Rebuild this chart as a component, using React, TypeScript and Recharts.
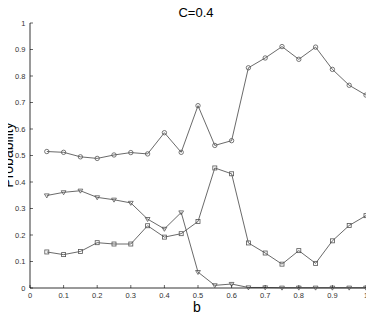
import React from 'react';
import { LineChart, Line, XAxis, YAxis } from 'recharts';

const bValues = [0.05, 0.1, 0.15, 0.2, 0.25, 0.3, 0.35, 0.4, 0.45, 0.5, 0.55, 0.6, 0.65, 0.7, 0.75, 0.8, 0.85, 0.9, 0.95, 1];
const circleSeries = [0.515, 0.512, 0.495, 0.489, 0.502, 0.511, 0.506, 0.586, 0.512, 0.688, 0.538, 0.556, 0.831, 0.868, 0.911, 0.863, 0.909, 0.825, 0.765, 0.728];
const triangleSeries = [0.349, 0.361, 0.367, 0.342, 0.333, 0.321, 0.26, 0.223, 0.285, 0.06, 0.01, 0.015, 0.002, 0.002, 0.001, 0.001, 0.001, 0.001, 0.001, 0.001];
const squareSeries = [0.136, 0.126, 0.138, 0.171, 0.166, 0.166, 0.235, 0.192, 0.205, 0.251, 0.453, 0.431, 0.17, 0.132, 0.09, 0.141, 0.093, 0.178, 0.236, 0.273];
const xTicks = [0, 0.1, 0.2, 0.3, 0.4, 0.5, 0.6, 0.7, 0.8, 0.9, 1];
const yTicks = [0, 0.1, 0.2, 0.3, 0.4, 0.5, 0.6, 0.7, 0.8, 0.9, 1];
const titleText = 'C=0.4';
const xLabel = 'b';
const yLabel = 'Probability';

const data = bValues.map((b, i) => ({
  b,
  circle: circleSeries[i],
  tri: triangleSeries[i],
  sq: squareSeries[i],
}));

const FONT = '"Liberation Sans", Arial, Helvetica, sans-serif';
const MARK = '#555';
const LINE = '#444';
const TICK_FILL = '#333';

const CircleDot = (props: any) => {
  const { cx, cy } = props;
  if (cx == null || cy == null) return <g />;
  return <circle cx={cx} cy={cy} r={2.2} fill="none" stroke={MARK} strokeWidth={0.8} />;
};
const SquareDot = (props: any) => {
  const { cx, cy } = props;
  if (cx == null || cy == null) return <g />;
  return <rect x={cx - 2} y={cy - 2} width={4} height={4} fill="none" stroke={MARK} strokeWidth={0.8} />;
};
const TriDot = (props: any) => {
  const { cx, cy } = props;
  if (cx == null || cy == null) return <g />;
  const pts = `${cx - 2.4},${cy - 1.6} ${cx + 2.4},${cy - 1.6} ${cx},${cy + 2.4}`;
  return <polygon points={pts} fill="none" stroke={MARK} strokeWidth={0.8} />;
};

const BottomTick = (props: any) => {
  const { x, y, payload } = props;
  return (
    <g>
      <line x1={x} y1={y} x2={x} y2={y - 3} stroke="#000" strokeWidth={0.6} />
      <text x={x} y={y + 9.7} textAnchor="middle" fontSize={7.5} fill={TICK_FILL} fontFamily={FONT}>
        {String(payload.value)}
      </text>
    </g>
  );
};
const TopTick = (props: any) => {
  const { x, y } = props;
  return <line x1={x} y1={y} x2={x} y2={y + 3} stroke="#000" strokeWidth={0.6} />;
};
const LeftTick = (props: any) => {
  const { x, y, payload } = props;
  return (
    <g>
      <line x1={x} y1={y} x2={x + 3} y2={y} stroke="#000" strokeWidth={0.6} />
      <text x={x - 4.5} y={y + 2.7} textAnchor="end" fontSize={7.5} fill={TICK_FILL} fontFamily={FONT}>
        {String(payload.value)}
      </text>
    </g>
  );
};
const RightTick = (props: any) => {
  const { x, y } = props;
  return <line x1={x} y1={y} x2={x - 3} y2={y} stroke="#000" strokeWidth={0.6} />;
};

export default function App() {
  return (
    <div style={{ position: 'relative', width: 374, height: 315, marginLeft: -8, marginTop: -8, fontFamily: FONT }}>
      <LineChart width={374} height={315} data={data} margin={{ top: 23, right: 8, bottom: 0, left: 0 }}>
        <XAxis
          dataKey="b"
          type="number"
          domain={[0, 1]}
          ticks={xTicks}
          interval={0}
          height={27}
          tickSize={0}
          tickMargin={0}
          tickLine={false}
          tick={BottomTick}
          axisLine={{ stroke: '#000', strokeWidth: 0.8 }}
        />
        <XAxis
          xAxisId="top"
          orientation="top"
          type="number"
          domain={[0, 1]}
          ticks={xTicks}
          interval={0}
          height={0}
          tickSize={0}
          tickMargin={0}
          tickLine={false}
          tick={TopTick}
          axisLine={{ stroke: '#000', strokeWidth: 0.8 }}
        />
        <YAxis
          type="number"
          domain={[0, 1]}
          ticks={yTicks}
          interval={0}
          width={30}
          tickSize={0}
          tickMargin={0}
          tickLine={false}
          tick={LeftTick}
          axisLine={{ stroke: '#000', strokeWidth: 0.8 }}
        />
        <YAxis
          yAxisId="right"
          orientation="right"
          type="number"
          domain={[0, 1]}
          ticks={yTicks}
          interval={0}
          width={0}
          tickSize={0}
          tickMargin={0}
          tickLine={false}
          tick={RightTick}
          axisLine={{ stroke: '#000', strokeWidth: 0.8 }}
        />
        <Line dataKey="circle" stroke={LINE} strokeWidth={0.8} dot={CircleDot} activeDot={false} isAnimationActive={false} />
        <Line dataKey="tri" stroke={LINE} strokeWidth={0.8} dot={TriDot} activeDot={false} isAnimationActive={false} />
        <Line dataKey="sq" stroke={LINE} strokeWidth={0.8} dot={SquareDot} activeDot={false} isAnimationActive={false} />
      </LineChart>
      <svg width={374} height={315} style={{ position: 'absolute', left: 0, top: 0, pointerEvents: 'none', overflow: 'visible' }}>
        <text x={196} y={17} textAnchor="middle" fontSize={13} fill="#000" fontFamily={FONT}>{titleText}</text>
        <text x={197} y={312} textAnchor="middle" fontSize={14} fill="#000" fontFamily={FONT}>{xLabel}</text>
        <text x={12.5} y={155} transform="rotate(-90 12.5 155)" textAnchor="middle" fontSize={14} fill="#000" fontFamily={FONT}>{yLabel}</text>
      </svg>
    </div>
  );
}
